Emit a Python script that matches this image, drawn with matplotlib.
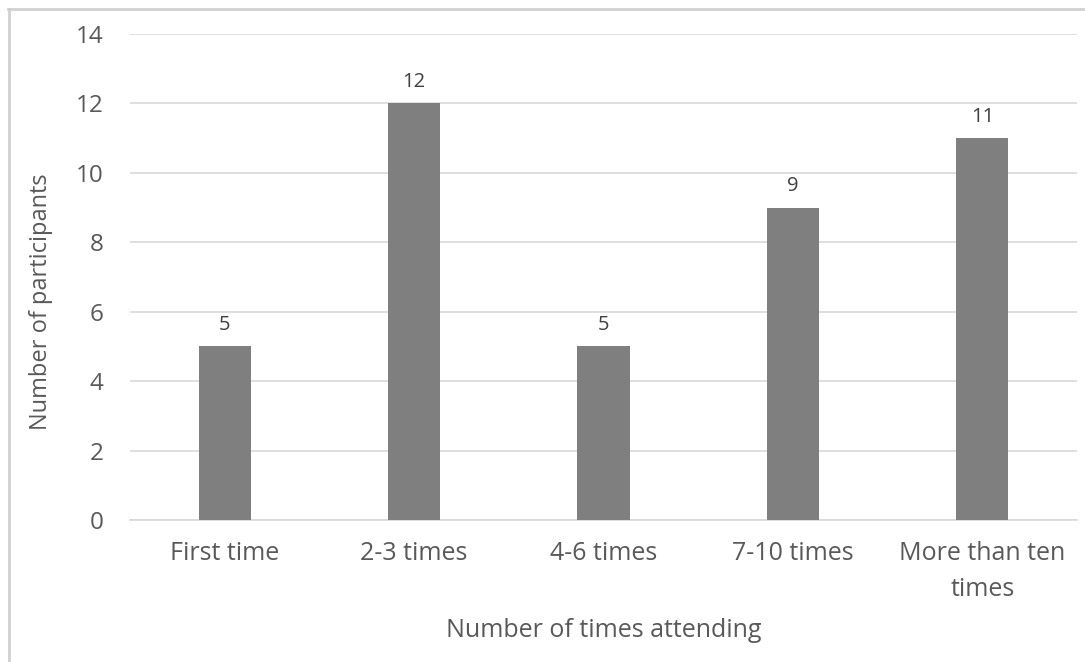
import matplotlib
matplotlib.use("Agg")
import matplotlib.pyplot as plt
from matplotlib.lines import Line2D

categories = ["First time", "2-3 times", "4-6 times", "7-10 times", "More than ten\ntimes"]
values = [5, 12, 5, 9, 11]
yticks = [0, 2, 4, 6, 8, 10, 12, 14]

plt.rcParams['font.family'] = ['Open Sans', 'DejaVu Sans']
txt = "#595959"

fig = plt.figure(figsize=(10.85, 6.62), dpi=100)
ax = fig.add_axes([130/1085, 1-520/662, (1077-130)/1085, (520-34)/662])

x = list(range(len(categories)))
bars = ax.bar(x, values, width=0.275, color="#7f7f7f", zorder=3)
ax.set_xlim(-0.5, len(categories)-0.5)
ax.set_ylim(0, 14)
ax.set_yticks(yticks)
ax.set_yticklabels([str(t) for t in yticks], fontsize=17.5, color=txt)
ax.set_xticks(x)
ax.set_xticklabels(categories, fontsize=18, color=txt, linespacing=1.6, va='top')
ax.tick_params(axis='y', length=0, pad=19)
ax.tick_params(axis='x', length=0, pad=15)
ax.grid(axis='y', color="#d9d9d9", linewidth=1.2, zorder=0)
for s in ['top', 'right', 'left']:
    ax.spines[s].set_visible(False)
ax.spines['bottom'].set_color("#d9d9d9")
ax.spines['bottom'].set_linewidth(1.2)

for xi, v in zip(x, values):
    ax.annotate(str(v), (xi, v), xytext=(0, 8), textcoords='offset points',
                ha='center', va='bottom', fontsize=14.5, color="#404040")

ax.set_ylabel("Number of participants", fontsize=17, color=txt)
ax.yaxis.set_label_coords(-0.081, 0.449)
ax.set_xlabel("Number of times attending", fontsize=18, color=txt, labelpad=11)

# outer border
fig.add_artist(Line2D([8/1085, 1], [1-9/662, 1-9/662], transform=fig.transFigure, color="#d0d0d0", linewidth=2))
fig.add_artist(Line2D([9/1085, 9/1085], [0, 1-9/662], transform=fig.transFigure, color="#d0d0d0", linewidth=2))

fig.savefig("out.png", dpi=100)
